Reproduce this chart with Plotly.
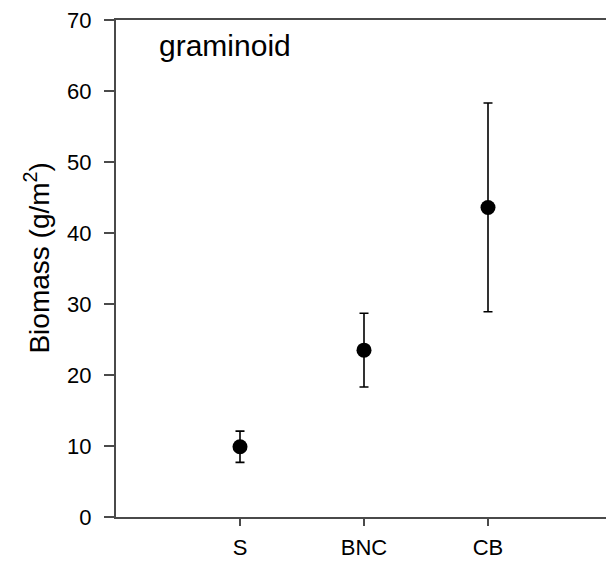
import plotly.graph_objects as go

categories = ["S", "BNC", "CB"]
x_pos = [1, 2, 3]
biomass = [9.9, 23.5, 43.6]
err = [2.2, 5.2, 14.7]
y_ticks = [0, 10, 20, 30, 40, 50, 60, 70]

FONT = "Liberation Sans, Arial, sans-serif"

fig = go.Figure()
fig.add_trace(go.Scatter(
    x=x_pos, y=biomass, mode="markers",
    marker=dict(color="black", size=15, symbol="circle"),
    error_y=dict(type="data", array=err, visible=True, color="black",
                 thickness=1.6, width=4.5),
    showlegend=False,
))

fig.update_layout(
    width=606, height=562,
    margin=dict(l=116, r=0, t=20, b=45),
    plot_bgcolor="white", paper_bgcolor="white",
    font=dict(family=FONT, size=22, color="black"),
    xaxis=dict(
        range=[0, 490 / 124], tickmode="array", tickvals=x_pos, ticktext=categories,
        showline=True, mirror=True, linecolor="#4a4a4a", linewidth=2,
        ticks="outside", ticklen=7, tickwidth=1.5, tickcolor="#4a4a4a",
        showgrid=False, zeroline=False, ticklabelstandoff=3,
        tickfont=dict(size=22), automargin=False,
    ),
    yaxis=dict(
        range=[0, 70], tickmode="array", tickvals=y_ticks,
        showline=True, linecolor="#4a4a4a", linewidth=2,
        ticks="outside", ticklen=10, tickwidth=1.5, tickcolor="#4a4a4a",
        showgrid=False, zeroline=False, ticklabelstandoff=8,
        tickfont=dict(size=22), automargin=False,
    ),
    annotations=[
        dict(
            text="graminoid", xref="paper", yref="paper", x=0.083, y=0.985,
            xanchor="left", yanchor="top", showarrow=False,
            font=dict(size=30, family=FONT, color="black"),
        ),
        dict(
            text="Biomass (g/m<sup>2</sup>)", xref="paper", yref="paper",
            x=(37 - 116) / 490, y=0.52, xanchor="center", yanchor="middle",
            textangle=-90, showarrow=False,
            font=dict(size=28, family=FONT, color="black"),
        ),
    ],
)

fig.write_html(
    "out.html",
    config={"displayModeBar": False},
    post_script="document.body.style.margin='0';document.body.style.padding='0';document.body.style.overflow='hidden';",
)
